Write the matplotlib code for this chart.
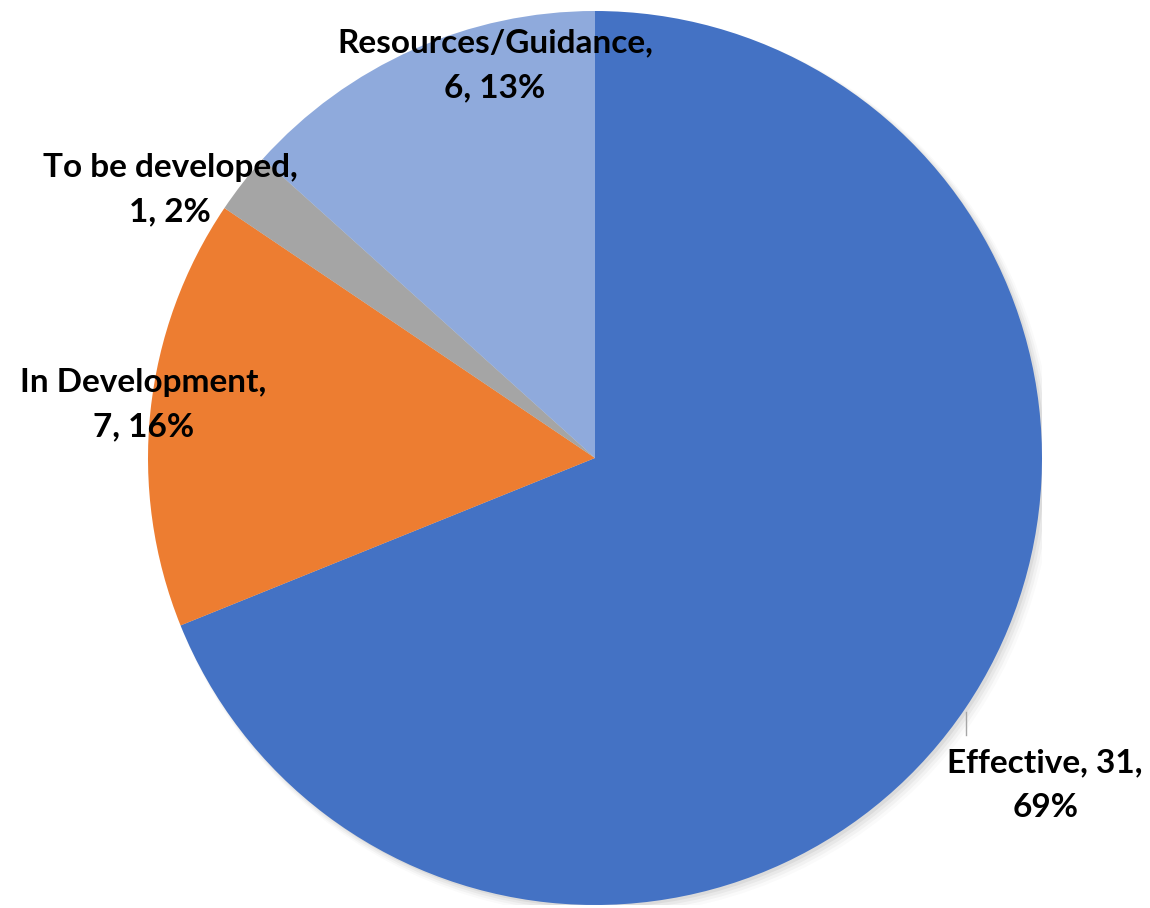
import matplotlib
matplotlib.use('Agg')
from matplotlib import pyplot as plt
from matplotlib.patches import Circle

plt.rcParams['font.family'] = ['Lato', 'DejaVu Sans']

labels = ['Effective', 'In Development', 'To be developed', 'Resources/Guidance']
counts = [31, 7, 1, 6]
colors = ['#4472C4', '#ED7D31', '#A5A5A5', '#8FAADC']
label_text = ['Effective, 31,\n69%', 'In Development,\n7, 16%', 'To be developed,\n1, 2%', 'Resources/Guidance,\n6, 13%']
label_pos = [(1.007, -0.732), (-1.011, 0.119), (-0.951, 0.600), (-0.224, 0.878)]

W, H = 1150, 908
fig = plt.figure(figsize=(W / 100, H / 100), dpi=100)
cx, cy, r = 595, 450, 447
ax = fig.add_axes([(cx - r) / W, (cy - r) / H, 2 * r / W, 2 * r / H])
ax.set_xlim(-1, 1)
ax.set_ylim(-1, 1)
ax.axis('off')

# soft shadow
for i, a in enumerate([0.05, 0.04, 0.03, 0.02]):
    ax.add_patch(Circle((0.006 + i * 0.003, -0.006 - i * 0.003), 1.0 + i * 0.003,
                        color='black', alpha=a, lw=0, zorder=0))

ax.pie(counts, colors=colors, startangle=90, counterclock=False, radius=1,
       wedgeprops={'linewidth': 0})
ax.set_xlim(-1, 1)
ax.set_ylim(-1, 1)
ax.set_aspect('auto')

for txt, (x, y) in zip(label_text, label_pos):
    ax.text(x, y, txt, ha='center', va='center', fontsize=24, fontweight='bold',
            linespacing=1.65, clip_on=False)

# leader line for Effective
ax.plot([0.831, 0.831], [-0.568, -0.62], color='#A6A6A6', lw=1, clip_on=False)

fig.savefig('out.png', dpi=100, facecolor='white')
